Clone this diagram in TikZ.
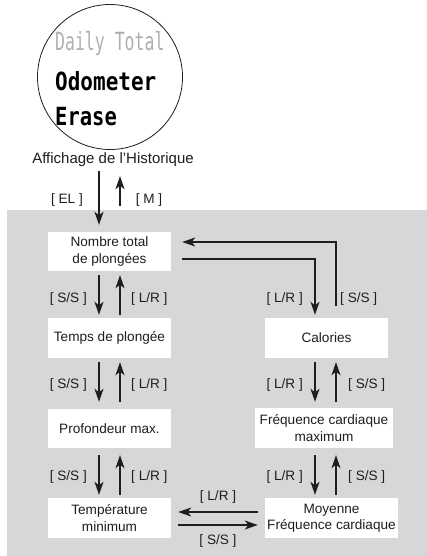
\documentclass[tikz,border=0pt]{standalone}
\usepackage{fontspec}
\setmainfont{Liberation Sans}
\usetikzlibrary{arrows.meta,calc}
\newfontfamily\lcdA[FakeStretch=0.66]{DejaVu Sans Mono}
\newfontfamily\lcdB[FakeStretch=0.84]{DejaVu Sans Mono Bold}
\newfontfamily\lcdC[FakeStretch=0.82]{DejaVu Sans Mono Bold}
\definecolor{bggray}{RGB}{214,215,217}
\definecolor{txt}{RGB}{30,30,30}
\definecolor{lcdgray}{RGB}{175,175,175}
\tikzset{
  box/.style={fill=white, inner sep=0pt, align=center, text=txt,
    font=\fontsize{13.6}{16.5}\selectfont},
  lbl/.style={inner sep=0pt, text=txt, font=\fontsize{13.6}{16}\selectfont},
  arr/.style={line width=1.3pt, draw=txt, -{Stealth[length=13pt,width=9pt,inset=3.5pt]}},
  ln/.style={line width=1.3pt, draw=txt}
}
\begin{document}
\begin{tikzpicture}[x=1pt,y=1pt]
\useasboundingbox (0,0) rectangle (427,-556);
\fill[bggray] (7,-210) rectangle (427,-556);
% display circle
\node[circle, draw=txt, line width=0.8pt, minimum size=145pt, inner sep=0pt] (disp) at (110,-77) {};
\node[anchor=west, inner sep=0pt, text=lcdgray, font=\lcdA\fontsize{25}{25}\selectfont] (daily) at (55,-44) {Daily Total};
\node[anchor=west, inner sep=0pt, text=black, font=\lcdB\fontsize{25}{25}\selectfont] (odo) at (55,-81) {Odometer};
\node[anchor=west, inner sep=0pt, text=black, font=\lcdC\fontsize{25}{25}\selectfont] (erase) at (55,-117) {Erase};
\node[inner sep=0pt, text=txt, font=\fontsize{15}{18}\selectfont] (aff) at (113,-160) {Affichage de l'Historique};
% boxes
\node[box, minimum width=123pt, minimum height=39pt] (nombre) at (109.5,-251.5) {Nombre total\\de plongées};
\node[box, minimum width=123pt, minimum height=40pt] (temps) at (109.5,-338) {Temps de plongée};
\node[box, minimum width=123pt, minimum height=39pt] (prof) at (109.5,-428.5) {Profondeur max.};
\node[box, minimum width=123pt, minimum height=40pt] (tempe) at (109.5,-518) {Température\\minimum};
\node[box, minimum width=123pt, minimum height=40pt] (cal) at (326.5,-338) {Calories};
\node[box, minimum width=138pt, minimum height=40pt] (freq) at (324,-428) {Fréquence cardiaque\\maximum};
\node[box, minimum width=133pt, minimum height=40pt] (moy) at (331.5,-518) {Moyenne\\Fréquence cardiaque};
% column x positions
\coordinate (ld) at (99,0);
\coordinate (lu) at (120,0);
\coordinate (rd) at (315,0);
\coordinate (ru) at (336,0);
% entry arrows
\coordinate (mstart) at (120,-206);
\draw[arr] (aff.south -| ld) ++(0,-4) -- ($(nombre.north -| ld)+(0,7)$);
\draw[arr] (mstart) -- ($(aff.south -| lu)+(0,-9)$);
\node[lbl] (el) at (67,-200) {[ EL ]};
\node[lbl] (m) at (149,-200) {[ M ]};
% left column
\draw[arr] ($(nombre.south -| ld)+(0,-4)$) -- ($(temps.north -| ld)+(0,3)$);
\draw[arr] ($(temps.north -| lu)+(0,3)$) -- ($(nombre.south -| lu)+(0,-4)$);
\draw[arr] ($(temps.south -| ld)+(0,-4)$) -- ($(prof.north -| ld)+(0,7)$);
\draw[arr] ($(prof.north -| lu)+(0,7)$) -- ($(temps.south -| lu)+(0,-4)$);
\draw[arr] ($(prof.south -| ld)+(0,-7)$) -- ($(tempe.north -| ld)+(0,3)$);
\draw[arr] ($(tempe.north -| lu)+(0,3)$) -- ($(prof.south -| lu)+(0,-7)$);
\node[lbl, anchor=east] (l1) at (87,-299) {[ S/S ]};
\node[lbl, anchor=west] (l2) at (131,-299) {[ L/R ]};
\node[lbl, anchor=east] (l3) at (87,-385) {[ S/S ]};
\node[lbl, anchor=west] (l4) at (131,-385) {[ L/R ]};
\node[lbl, anchor=east] (l5) at (87,-477) {[ S/S ]};
\node[lbl, anchor=west] (l6) at (131,-477) {[ L/R ]};
% top loop
\draw[arr] ($(nombre.east)+(11,-7.5)$) -| ($(cal.north -| rd)+(0,3)$);
\draw[arr] ($(cal.north -| ru)+(0,12)$) |- ($(nombre.east)+(11,9.5)$);
\node[lbl, anchor=east] (t1) at (303,-299) {[ L/R ]};
\node[lbl, anchor=west] (t2) at (340,-299) {[ S/S ]};
% right column
\draw[arr] ($(cal.south -| rd)+(0,-4)$) -- ($(freq.north -| rd)+(0,6)$);
\draw[arr] ($(freq.north -| ru)+(0,6)$) -- ($(cal.south -| ru)+(0,-4)$);
\draw[arr] ($(freq.south -| rd)+(0,-7)$) -- ($(moy.north -| rd)+(0,3)$);
\draw[arr] ($(moy.north -| ru)+(0,3)$) -- ($(freq.south -| ru)+(0,-7)$);
\node[lbl, anchor=east] (r1) at (303,-385) {[ L/R ]};
\node[lbl, anchor=west] (r2) at (348,-385) {[ S/S ]};
\node[lbl, anchor=east] (r3) at (303,-477) {[ L/R ]};
\node[lbl, anchor=west] (r4) at (348,-477) {[ S/S ]};
% bottom horizontals
\draw[arr] ($(moy.west)+(-7,6)$) -- ($(tempe.east)+(7,6)$);
\draw[arr] ($(tempe.east)+(7,-7)$) -- ($(moy.west)+(-7,-7)$);
\node[lbl] (b1) at (218,-497) {[ L/R ]};
\node[lbl] (b2) at (218,-541) {[ S/S ]};
\end{tikzpicture}
\end{document}
